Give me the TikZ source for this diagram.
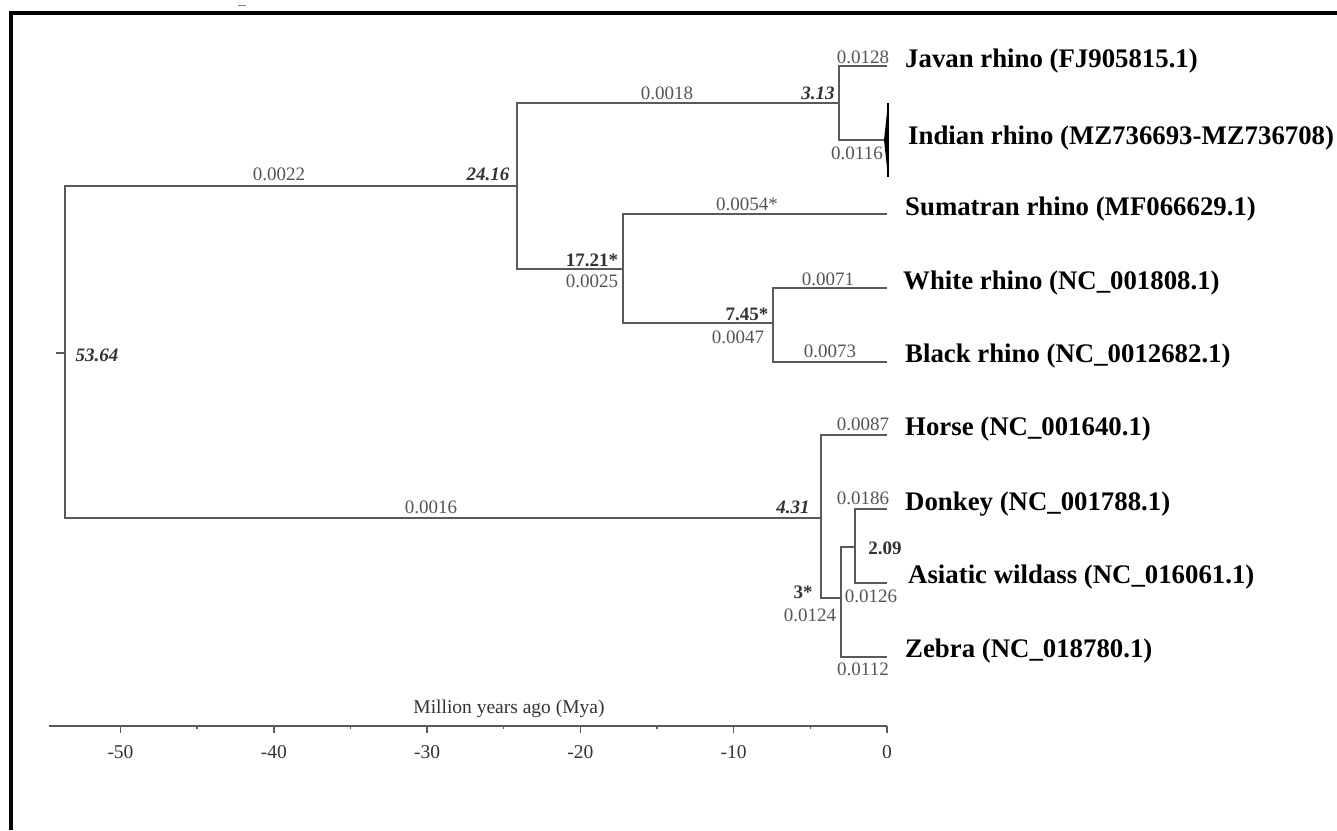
\documentclass[tikz,border=0pt]{standalone}
\usepackage{fontspec}
\setmainfont{Liberation Serif}
\definecolor{brc}{HTML}{5A5A5A}
\definecolor{lblc}{HTML}{555555}
\definecolor{agec}{HTML}{333333}
\begin{document}
\begin{tikzpicture}[x=1pt,y=-1pt,
  br/.style={draw=brc, line width=1.4pt},
  bl/.style={font=\fontsize{19}{21}\selectfont, text=lblc, inner sep=0pt},
  age/.style={font=\fontsize{19}{21}\selectfont\bfseries\itshape, text=agec, inner sep=0pt},
  agebf/.style={font=\fontsize{19}{21}\selectfont\bfseries, text=agec, inner sep=0pt},
  taxon/.style={font=\fontsize{26.8}{30}\selectfont\bfseries, anchor=base west, inner sep=0pt},
  axlab/.style={font=\fontsize{19.5}{22}\selectfont, text=agec, inner sep=0pt},
]
\useasboundingbox (0,0) rectangle (1337,830);
\fill[white] (0,0) rectangle (1337,830);
% frame (cut at right and bottom)
\draw[line width=3.2pt] (11,830) -- (11,13) -- (1337,13);
\draw[line width=1pt, gray] (238,5) -- (246,5);

% internal nodes
\coordinate (R) at (65,353);
\coordinate (A) at (517,186);
\coordinate (B) at (839,103);
\coordinate (C) at (623,269);
\coordinate (D) at (773,323);
\coordinate (E) at (821,518);
\coordinate (F) at (841,598);
\coordinate (G) at (855,547);
% tips
\coordinate (tJ) at (887,66);
\coordinate (tI) at (884,140);
\coordinate (tS) at (887,214);
\coordinate (tW) at (887,288);
\coordinate (tB) at (887,362);
\coordinate (tH) at (887,435);
\coordinate (tD) at (887,509);
\coordinate (tA) at (887,583);
\coordinate (tZ) at (887,657);
\coordinate (rt) at (56,353);

% branches
\draw[br] (R) -- (rt);
\draw[br] (R) |- (A);
\draw[br] (R) |- (E);
\draw[br] (A) |- (B);
\draw[br] (A) |- (C);
\draw[br] (B) |- (tJ);
\draw[br] (B) |- (tI);
\draw[br] (C) |- (tS);
\draw[br] (C) |- (D);
\draw[br] (D) |- (tW);
\draw[br] (D) |- (tB);
\draw[br] (E) |- (tH);
\draw[br] (E) |- (F);
\draw[br] (F) |- (G);
\draw[br] (F) |- (tZ);
\draw[br] (G) |- (tD);
\draw[br] (G) |- (tA);
% collapsed clade (Indian rhino)
\coordinate (cT) at (888,103);
\coordinate (cB) at (888,177);
\fill[black] (tI) -- (cT) -- (cB) -- cycle;
\draw[black, line width=1.2pt] (cT) -- (cB);

% taxon names
\node[taxon] (nJ) at (905,67) {Javan rhino (FJ905815.1)};
\node[taxon] (nI) at (908,144) {Indian rhino (MZ736693-MZ736708)};
\node[taxon] (nS) at (905,215) {Sumatran rhino (MF066629.1)};
\node[taxon] (nW) at (903,289) {White rhino (NC\_001808.1)};
\node[taxon] (nB) at (905,362) {Black rhino (NC\_0012682.1)};
\node[taxon] (nH) at (905,435) {Horse (NC\_001640.1)};
\node[taxon] (nD) at (905,510) {Donkey (NC\_001788.1)};
\node[taxon] (nA) at (908,583) {Asiatic wildass (NC\_016061.1)};
\node[taxon] (nZ) at (905,657) {Zebra (NC\_018780.1)};

% branch lengths
\node[bl] (l1) at (279,174) {0.0022};
\node[bl] (l2) at (667,93) {0.0018};
\node[bl] (l3) at (863,57) {0.0128};
\node[bl] (l4) at (857,153) {0.0116};
\node[bl] (l5) at (747,204) {0.0054*};
\node[bl] (l6) at (592,281) {0.0025};
\node[bl] (l7) at (828,279) {0.0071};
\node[bl] (l8) at (738,337) {0.0047};
\node[bl] (l9) at (830,351) {0.0073};
\node[bl] (l10) at (431,507) {0.0016};
\node[bl] (l11) at (863,424) {0.0087};
\node[bl] (l12) at (863,498) {0.0186};
\node[bl] (l13) at (810,615) {0.0124};
\node[bl] (l14) at (871,596) {0.0126};
\node[bl] (l15) at (863,669) {0.0112};

% node ages
\node[age] (a1) at (97,355) {53.64};
\node[age] (a2) at (488,174) {24.16};
\node[age] (a3) at (818,93) {3.13};
\node[agebf] (a4) at (592,260) {17.21*};
\node[agebf] (a5) at (747,314) {7.45*};
\node[age] (a6) at (793,507) {4.31};
\node[agebf] (a7) at (803,592) {3*};
\node[agebf] (a8) at (885,548) {2.09};

% time axis
\coordinate (ax0) at (49,726);
\coordinate (ax1) at (887,726);
\draw[br, line width=1.6pt] (ax0) -- (ax1);
\foreach \t in {-50,-40,-30,-20,-10,0}{
  \draw[br] ({887+15.33*\t},726) -- ++(0,7);
  \node[axlab] (tick\t) at ({887+15.33*\t},752) {\t};
}
\foreach \t in {-45,-35,-25,-15,-5}{
  \draw[br] ({887+15.33*\t},726) -- ++(0,3);
}
\node[axlab] (axt) at (509,709) {Million years ago (Mya)};
\end{tikzpicture}
\end{document}
